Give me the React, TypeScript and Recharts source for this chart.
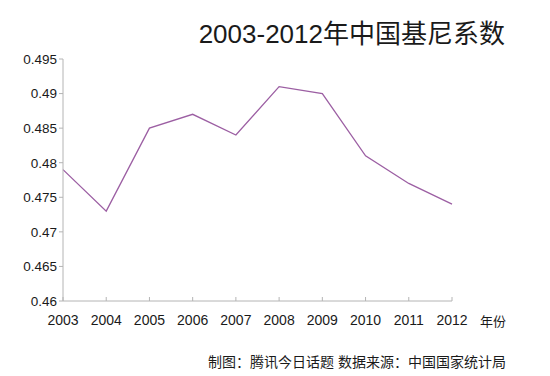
import React from "react";
import { LineChart, Line, XAxis, YAxis } from "recharts";

const years = ["2003", "2004", "2005", "2006", "2007", "2008", "2009", "2010", "2011", "2012"];
const gini = [0.479, 0.473, 0.485, 0.487, 0.484, 0.491, 0.49, 0.481, 0.477, 0.474];
const yTicks = [0.46, 0.465, 0.47, 0.475, 0.48, 0.485, 0.49, 0.495];

const data = years.map((year, i) => ({ year, gini: gini[i] }));

const latin = "'Liberation Sans', Arial, 'Noto Sans CJK SC', sans-serif";
const axisColor = "#b4b4b4";

export default function App() {
  return (
    <div
      style={{
        position: "absolute",
        left: 0,
        top: 0,
        width: 550,
        height: 376,
        background: "#fff",
        fontFamily: latin,
      }}
    >
      <div
        style={{
          position: "absolute",
          right: 45,
          top: 15,
          fontSize: 26,
          color: "#1a1a1a",
          whiteSpace: "nowrap",
          lineHeight: "38px",
        }}
      >
        2003-2012年中国基尼系数
      </div>
      <LineChart
        width={550}
        height={376}
        data={data}
        margin={{ top: 59, right: 98, bottom: 0, left: 0 }}
      >
        <XAxis
          dataKey="year"
          height={75}
          stroke={axisColor}
          tickSize={-4}
          tickMargin={18}
          tick={{ fontSize: 14, fill: "#1a1a1a", fontFamily: latin }}
          interval={0}
        />
        <YAxis
          width={63}
          domain={[0.46, 0.495]}
          ticks={yTicks}
          stroke={axisColor}
          tickSize={4}
          tickMargin={2}
          tick={{ fontSize: 13.5, fill: "#1a1a1a", fontFamily: latin }}
          allowDataOverflow
        />
        <Line
          type="linear"
          dataKey="gini"
          stroke="#9c5fa3"
          strokeWidth={1.3}
          dot={false}
          activeDot={false}
          isAnimationActive={false}
        />
      </LineChart>
      <div
        style={{
          position: "absolute",
          left: 480,
          top: 311,
          fontSize: 13,
          color: "#1a1a1a",
          whiteSpace: "nowrap",
        }}
      >
        年份
      </div>
      <div
        style={{
          position: "absolute",
          right: 44,
          top: 351,
          fontSize: 14,
          color: "#1a1a1a",
          whiteSpace: "nowrap",
        }}
      >
        制图：腾讯今日话题 数据来源：中国国家统计局
      </div>
    </div>
  );
}
